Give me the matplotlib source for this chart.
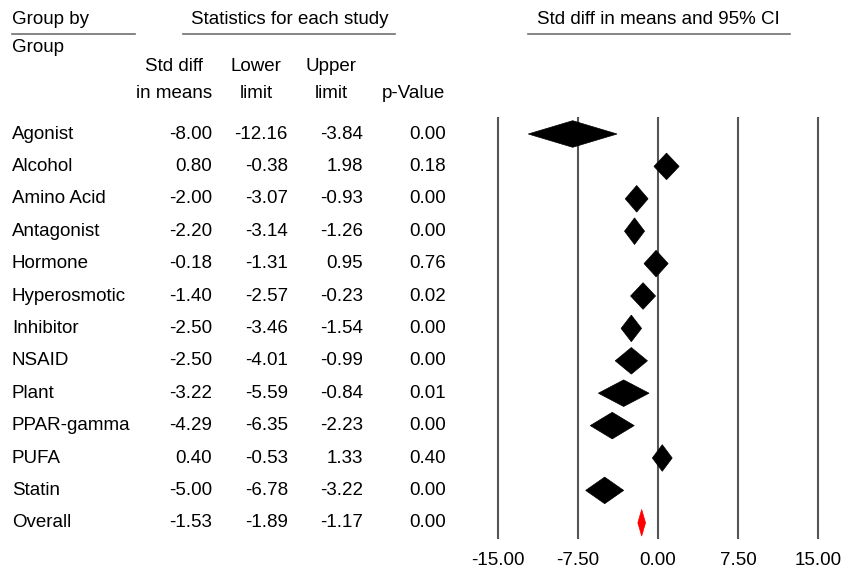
import matplotlib
matplotlib.use("Agg")
import matplotlib.pyplot as plt
from matplotlib.patches import Polygon

plt.rcParams['font.family'] = ['Liberation Sans', 'DejaVu Sans']

groups = ['Agonist', 'Alcohol', 'Amino Acid', 'Antagonist', 'Hormone', 'Hyperosmotic',
          'Inhibitor', 'NSAID', 'Plant', 'PPAR-gamma', 'PUFA', 'Statin', 'Overall']
std_diff = [-8.00, 0.80, -2.00, -2.20, -0.18, -1.40, -2.50, -2.50, -3.22, -4.29, 0.40, -5.00, -1.53]
lower = [-12.16, -0.38, -3.07, -3.14, -1.31, -2.57, -3.46, -4.01, -5.59, -6.35, -0.53, -6.78, -1.89]
upper = [-3.84, 1.98, -0.93, -1.26, 0.95, -0.23, -1.54, -0.99, -0.84, -2.23, 1.33, -3.22, -1.17]
p_value = [0.00, 0.18, 0.00, 0.00, 0.76, 0.02, 0.00, 0.00, 0.01, 0.00, 0.40, 0.00, 0.00]
x_ticks = [-15.0, -7.5, 0.0, 7.5, 15.0]

W, H = 854, 575
fs = 13.5
fig = plt.figure(figsize=(W / 100, H / 100), dpi=100)

# vertical extent shared by table and forest axes (pixels)
top_px, bot_px = 118, 538
row0_px, step_px = 134, 32.4
n = len(groups)
y_top = -(row0_px - top_px) / step_px
y_bot = (bot_px - row0_px) / step_px

# forest plot axes
left_px, right_px = 498, 818
ax = fig.add_axes([left_px / W, 1 - bot_px / H, (right_px - left_px) / W, (bot_px - top_px) / H])
ax.set_xlim(-15, 15)
ax.set_ylim(y_bot, y_top)
for t in x_ticks:
    ax.axvline(t, color='#555555', lw=1.5, clip_on=False)
h = 0.41
for i in range(n):
    col = 'red' if groups[i] == 'Overall' else 'black'
    poly = Polygon([(lower[i], i), (std_diff[i], i - h), (upper[i], i), (std_diff[i], i + h)],
                   closed=True, facecolor=col, edgecolor=col, lw=0.5, zorder=3)
    ax.add_patch(poly)
ax.set_xticks(x_ticks)
ax.set_xticklabels(['%.2f' % t for t in x_ticks], fontsize=fs)
ax.tick_params(axis='x', length=0, pad=10)
ax.set_yticks([])
for s in ax.spines.values():
    s.set_visible(False)

# table axes, x in pixel units
tab = fig.add_axes([0, 1 - bot_px / H, 470 / W, (bot_px - top_px) / H])
tab.set_xlim(0, 470)
tab.set_ylim(y_bot, y_top)
tab.axis('off')
for i in range(n):
    tab.text(12, i, groups[i], ha='left', va='center', fontsize=fs)
    tab.text(212, i, '%.2f' % std_diff[i], ha='right', va='center', fontsize=fs)
    tab.text(288, i, '%.2f' % lower[i], ha='right', va='center', fontsize=fs)
    tab.text(363, i, '%.2f' % upper[i], ha='right', va='center', fontsize=fs)
    tab.text(446, i, '%.2f' % p_value[i], ha='right', va='center', fontsize=fs)

# headers (figure pixel coords)
def ftext(x, y, s, **kw):
    fig.text(x / W, 1 - y / H, s, fontsize=fs, va='center', **kw)

def fline(x0, x1, y):
    fig.add_artist(plt.Line2D([x0 / W, x1 / W], [1 - y / H, 1 - y / H], color='#707070', lw=1.2))

ftext(12, 20, 'Group by', ha='left')
fline(12, 135, 34)
ftext(12, 48, 'Group', ha='left')
ftext(290, 20, 'Statistics for each study', ha='center')
fline(183, 395, 34)
ftext(658, 20, 'Std diff in means and 95% CI', ha='center')
fline(528, 790, 34)
ftext(174, 67, 'Std diff', ha='center')
ftext(174, 93, 'in means', ha='center')
ftext(256, 67, 'Lower', ha='center')
ftext(256, 93, 'limit', ha='center')
ftext(331, 67, 'Upper', ha='center')
ftext(331, 93, 'limit', ha='center')
ftext(413, 93, 'p-Value', ha='center')

fig.savefig('out.png', dpi=100)
